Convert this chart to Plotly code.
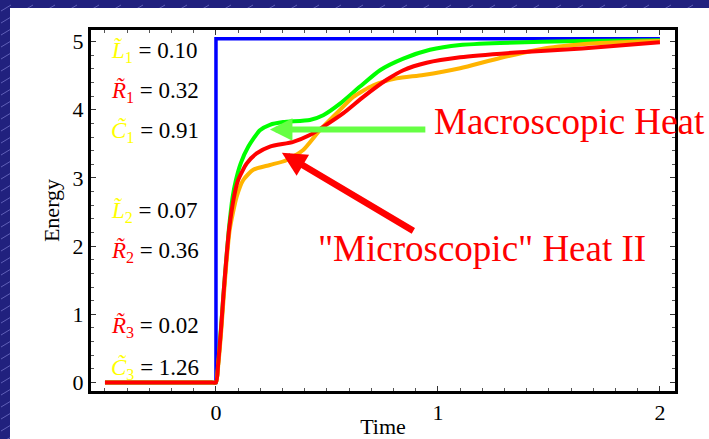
import base64
import plotly.graph_objects as go

# ---- data -------------------------------------------------------------
# ideal (instantaneous) heat step
t_step = [-0.5, 0.0, 0.0, 2.0]
e_step = [0.0, 0.0, 5.04, 5.04]

# macroscopic heat response (green)
t_macro = [-0.5, -0.02, 0.0, 0.01, 0.022, 0.033, 0.045, 0.058, 0.075, 0.09, 0.111, 0.146,
           0.198, 0.243, 0.303, 0.423, 0.483, 0.559, 0.649, 0.739, 0.844, 0.964,
           1.1, 1.28, 1.65, 2.0]
e_macro = [0.0, 0.0, 0.0, 0.28, 0.77, 1.26, 1.75, 2.24, 2.72, 2.97, 3.21, 3.46,
           3.70, 3.78, 3.82, 3.85, 3.92, 4.09, 4.34, 4.58, 4.75, 4.88,
           4.95, 4.98, 5.01, 5.02]

# "microscopic" heat I (orange)
t_micro1 = [-0.5, -0.02, 0.0, 0.011, 0.024, 0.035, 0.047, 0.062, 0.093, 0.123, 0.168,
            0.243, 0.318, 0.393, 0.468, 0.544, 0.619, 0.709, 0.814, 0.934, 1.1,
            1.28, 1.5, 1.73, 2.0]
e_micro1 = [0.0, 0.0, 0.0, 0.28, 0.77, 1.26, 1.75, 2.24, 2.72, 2.97, 3.12,
            3.19, 3.26, 3.41, 3.70, 3.95, 4.19, 4.36, 4.46, 4.51, 4.61,
            4.76, 4.91, 4.98, 5.01]

# "microscopic" heat II (red)
t_micro2 = [-0.5, -0.02, 0.0, 0.01, 0.0225, 0.033, 0.045, 0.059, 0.081, 0.10,
            0.138, 0.183, 0.243, 0.348, 0.423, 0.483, 0.574, 0.664, 0.769,
            0.844, 0.949, 1.1, 1.35, 1.65, 2.0]
e_micro2 = [0.0, 0.0, 0.0, 0.28, 0.77, 1.26, 1.75, 2.24, 2.72, 2.97,
            3.21, 3.36, 3.46, 3.53, 3.63, 3.75, 3.95, 4.19, 4.44,
            4.58, 4.69, 4.77, 4.84, 4.90, 4.99]

# circuit parameters: symbol, subscript, value, colour, label height
param_sym = ["L", "R", "C", "L", "R", "R", "C"]
param_sub = ["1", "1", "1", "2", "2", "3", "3"]
param_val = ["0.10", "0.32", "0.91", "0.07", "0.36", "0.02", "1.26"]
param_col = ["#ffff00", "#ff0000", "#ffff00", "#ffff00", "#ff0000", "#ff0000", "#ffff00"]
param_y = [4.85, 4.27, 3.68, 2.51, 1.92, 0.82, 0.205]

x_ticks = [0, 1, 2]
y_ticks = [0, 1, 2, 3, 4, 5]

SERIF = "Liberation Serif"

# ---- slide background (navy with faint diagonal hatching, white panel) --
W, H = 709, 439
bg_svg = f'''<svg xmlns="http://www.w3.org/2000/svg" width="{W}" height="{H}">
<defs><pattern id="p" width="22" height="12" patternUnits="userSpaceOnUse">
<line x1="1" y1="11" x2="11" y2="5" stroke="#9a9aee" stroke-width="1" stroke-opacity="0.5"/>
</pattern></defs>
<rect width="{W}" height="{H}" fill="#21217e"/>
<rect width="{W}" height="{H}" fill="url(#p)"/>
<rect x="10" y="8" width="{W - 10}" height="{H - 8}" fill="#ffffff"/>
</svg>'''
bg_uri = "data:image/svg+xml;base64," + base64.b64encode(bg_svg.encode()).decode()

ML, MR, MT, MB = 91, 34, 30, 48
PW, PH = W - ML - MR, H - MT - MB

fig = go.Figure()

fig.add_trace(go.Scatter(x=t_step, y=e_step, mode="lines",
                         line=dict(color="#0000ff", width=3.5)))
fig.add_trace(go.Scatter(x=t_macro, y=e_macro, mode="lines",
                         line=dict(color="#00ff00", width=4, shape="spline", smoothing=0.6)))
fig.add_trace(go.Scatter(x=t_micro1, y=e_micro1, mode="lines",
                         line=dict(color="#ffb400", width=4, shape="spline", smoothing=0.6)))
fig.add_trace(go.Scatter(x=t_micro2, y=e_micro2, mode="lines",
                         line=dict(color="#ff0000", width=4, shape="spline", smoothing=0.6)))

annotations = []
for sym, sub, val, col, yy in zip(param_sym, param_sub, param_val, param_col, param_y):
    annotations.append(dict(
        x=-0.482, y=yy, xref="x", yref="y", xanchor="left", yanchor="middle",
        showarrow=False,
        text=(f'<span style="color:{col}"><i>{sym}\u0303</i><sub>{sub}</sub></span>'
              f' = {val}'),
        font=dict(family=SERIF, size=23, color="black"),
    ))

# arrows pointing at the curves
annotations.append(dict(x=0.243, y=3.71, ax=0.95, ay=3.71, xref="x", yref="y",
                        axref="x", ayref="y", text="", showarrow=True,
                        arrowhead=2, arrowsize=0.75, arrowwidth=6, arrowcolor="#66ff44"))
annotations.append(dict(x=0.297, y=3.37, ax=0.896, ay=2.21, xref="x", yref="y",
                        axref="x", ayref="y", text="", showarrow=True,
                        arrowhead=2, arrowsize=0.75, arrowwidth=6.5, arrowcolor="#ff0000"))

annotations.append(dict(x=0.973, y=3.83, xref="x", yref="y", xanchor="left",
                        yanchor="middle", showarrow=False, text="Macroscopic Heat",
                        font=dict(family=SERIF, size=37, color="#ff0000")))
annotations.append(dict(x=0.45, y=1.96, xref="x", yref="y", xanchor="left",
                        yanchor="middle", showarrow=False, text='"Microscopic" Heat II',
                        font=dict(family=SERIF, size=37, color="#ff0000")))

axis_common = dict(
    showline=True, linewidth=3, linecolor="black", mirror="ticks",
    ticks="inside", ticklen=5, tickwidth=1, tickcolor="#333333",
    showgrid=False, zeroline=False,
    tickfont=dict(family=SERIF, size=22, color="black"),
    automargin=False,
)

fig.update_layout(
    width=W, height=H,
    margin=dict(l=ML, r=MR, t=MT, b=MB),
    paper_bgcolor="#21217e", plot_bgcolor="white",
    font=dict(family=SERIF),
    showlegend=False,
    annotations=annotations,
    images=[dict(source=bg_uri, xref="paper", yref="paper",
                 x=-ML / PW, y=1 + MT / PH, sizex=W / PW, sizey=H / PH,
                 xanchor="left", yanchor="top", sizing="stretch", layer="below")],
    xaxis=dict(range=[-0.563, 2.068], tickvals=x_ticks,
               minor=dict(dtick=0.1, tick0=0, ticks="inside", ticklen=3,
                          tickwidth=1, tickcolor="#555555"),
               title=dict(text="Time", font=dict(family=SERIF, size=22, color="black"),
                          standoff=1),
               **axis_common),
    yaxis=dict(range=[-0.125, 5.17], tickvals=y_ticks,
               minor=dict(dtick=0.2, tick0=0, ticks="inside", ticklen=3,
                          tickwidth=1, tickcolor="#555555"),
               title=dict(text="Energy", font=dict(family=SERIF, size=22, color="black"),
                          standoff=7),
               **axis_common),
)

fig.write_html("out.html")
